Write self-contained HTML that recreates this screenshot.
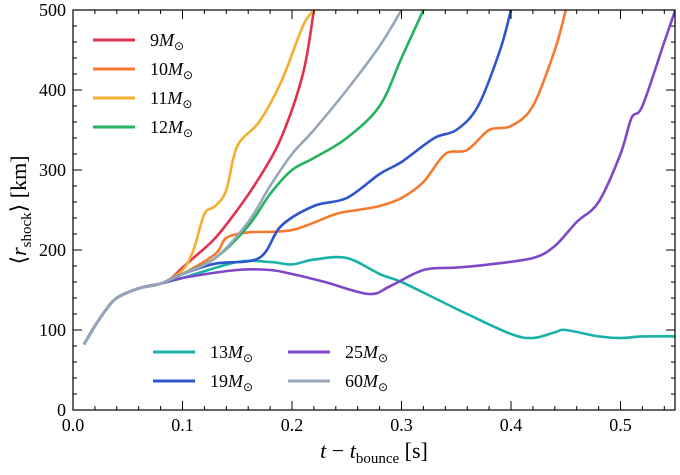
<!DOCTYPE html>
<html><head><meta charset="utf-8"><style>
body{margin:0;background:#fff}
svg text{font-family:"Liberation Serif",serif;fill:#000}
</style></head><body>
<svg id="chart" width="680" height="470" viewBox="0 0 680 470">
<defs><clipPath id="clip"><rect x="73" y="10" width="602" height="400"/></clipPath></defs>
<g id="lines" clip-path="url(#clip)"></g>
<rect x="73" y="10" width="602" height="400" fill="none" stroke="#000" stroke-width="1.2"/>
<g id="ticks"></g>
<text x="374" y="458" font-size="22" text-anchor="middle"><tspan font-style="italic">t</tspan> − <tspan font-style="italic">t</tspan><tspan font-size="15" dy="5">bounce</tspan><tspan dy="-5"> [s]</tspan></text>
<text transform="translate(26,210) rotate(-90)" font-size="22" text-anchor="middle">⟨<tspan font-style="italic">r</tspan><tspan font-size="15" dy="5">shock</tspan><tspan dy="-5">⟩ [km]</tspan></text>
<g id="legend"></g>
</svg>
<script>
const startT=[0.01,0.02,0.03,0.04,0.06,0.08];
const startR=[82,105,125,140,152,158];
const names=["9","10","11","12","13","19","25","60"];
const colors=["#e0324f","#f57a2e","#f4ae2e","#22b35c","#18b2a8","#2f55cc","#7f48c8","#98a6b9"];
const t9=[0.09,0.1,0.11,0.13,0.15,0.17,0.19,0.21,0.22];
const r9=[165,178,190,215,250,290,340,420,500];
const t10=[0.1,0.13,0.14,0.16,0.2,0.24,0.26,0.28,0.3,0.32,0.34,0.36,0.38,0.4,0.42,0.44,0.45];
const r10=[170,195,215,222,225,245,250,255,265,285,320,325,350,355,380,450,500];
const t11=[0.1,0.11,0.12,0.13,0.14,0.15,0.17,0.19,0.21,0.22];
const r11=[175,200,245,255,275,330,360,410,480,500];
const t12=[0.1,0.13,0.16,0.18,0.2,0.22,0.25,0.28,0.3,0.32];
const r12=[170,190,230,270,300,315,340,380,440,500];
const t13=[0.1,0.15,0.18,0.2,0.22,0.25,0.28,0.3,0.33,0.36,0.4,0.42,0.44,0.45,0.48,0.5,0.52,0.55];
const r13=[165,185,185,182,188,190,170,160,140,120,95,90,97,100,92,90,92,92];
const t19=[0.1,0.13,0.17,0.19,0.22,0.25,0.28,0.3,0.33,0.35,0.37,0.39,0.4];
const r19=[170,183,190,230,255,265,295,310,340,350,380,450,500];
const t25=[0.1,0.15,0.18,0.2,0.23,0.27,0.29,0.32,0.35,0.38,0.42,0.44,0.46,0.48,0.5,0.51,0.52,0.54,0.55];
const r25=[165,175,175,170,160,145,155,175,178,182,190,205,235,260,320,365,380,460,500];
const t60=[0.1,0.13,0.16,0.18,0.2,0.22,0.25,0.28,0.3];
const r60=[170,190,235,280,320,350,400,455,500];
const xTicks=[0,0.1,0.2,0.3,0.4,0.5];
const xTickLabels=["0.0","0.1","0.2","0.3","0.4","0.5"];
const yTicks=[0,100,200,300,400,500];
const x=v=>73+v*1095;
const y=v=>410-v*0.8;
const NS="http://www.w3.org/2000/svg";
const ts=[t9,t10,t11,t12,t13,t19,t25,t60], rs=[r9,r10,r11,r12,r13,r19,r25,r60];
function smooth(P){
  let d='M'+P[0][0].toFixed(1)+' '+P[0][1].toFixed(1);
  for(let i=0;i<P.length-1;i++){
    const p0=P[Math.max(0,i-1)],p1=P[i],p2=P[i+1],p3=P[Math.min(P.length-1,i+2)];
    const c1=[p1[0]+(p2[0]-p0[0])/6,p1[1]+(p2[1]-p0[1])/6];
    const c2=[p2[0]-(p3[0]-p1[0])/6,p2[1]-(p3[1]-p1[1])/6];
    d+='C'+c1.map(v=>v.toFixed(1)).join(' ')+' '+c2.map(v=>v.toFixed(1)).join(' ')+' '+p2[0].toFixed(1)+' '+p2[1].toFixed(1);
  }
  return d;
}
const lg=document.getElementById('lines');
ts.forEach((tt,i)=>{
  const T=startT.concat(tt), R=startR.concat(rs[i]);
  const p=document.createElementNS(NS,'path');
  p.setAttribute('d',smooth(T.map((t,j)=>[x(t),y(R[j])])));
  p.setAttribute('fill','none');p.setAttribute('stroke',colors[i]);p.setAttribute('stroke-width','2.6');p.setAttribute('stroke-linejoin','round');
  
  
  lg.appendChild(p);
});
const tk=document.getElementById('ticks');
function ln(x1,y1,x2,y2){const l=document.createElementNS(NS,'line');l.setAttribute('x1',x1);l.setAttribute('y1',y1);l.setAttribute('x2',x2);l.setAttribute('y2',y2);l.setAttribute('stroke','#000');l.setAttribute('stroke-width','1');


tk.appendChild(l);}
function tx(s,X,Y,a,n){const e=document.createElementNS(NS,'text');e.setAttribute('x',X);e.setAttribute('y',Y);e.setAttribute('font-size','18');e.setAttribute('text-anchor',a);e.textContent=s;


tk.appendChild(e);}
for(let v=0;v<=0.55001;v+=0.02){const X=x(v);ln(X,410,X,406);ln(X,10,X,14);}
xTicks.forEach((v,i)=>{const X=x(v);ln(X,410,X,401);ln(X,10,X,19);tx(xTickLabels[i],X,431,'middle','x-tick-label');});
for(let v=0;v<=500;v+=20){const Y=y(v);ln(73,Y,77,Y);ln(675,Y,671,Y);}
yTicks.forEach(v=>{const Y=y(v);ln(73,Y,82,Y);ln(675,Y,666,Y);tx(String(v),66,Y+6,'end','y-tick-label');});
const leg=document.getElementById('legend');
const legPos=[[93,40],[93,69],[93,98],[93,127],[153,352],[153,381],[288,352],[288,381]];
names.forEach((n,i)=>{const [X,Y]=legPos[i];
  const l=document.createElementNS(NS,'line');l.setAttribute('x1',X);l.setAttribute('x2',X+42);l.setAttribute('y1',Y);l.setAttribute('y2',Y);l.setAttribute('stroke',colors[i]);l.setAttribute('stroke-width','3');
  
  
  leg.appendChild(l);
  const e=document.createElementNS(NS,'text');e.setAttribute('x',X+57);e.setAttribute('y',Y+6);e.setAttribute('font-size','18');
  e.innerHTML=n+'<tspan font-style="italic">M</tspan><tspan font-size="12" dy="4">⊙</tspan>';
  
  
  leg.appendChild(e);
});
</script>
</body></html>
